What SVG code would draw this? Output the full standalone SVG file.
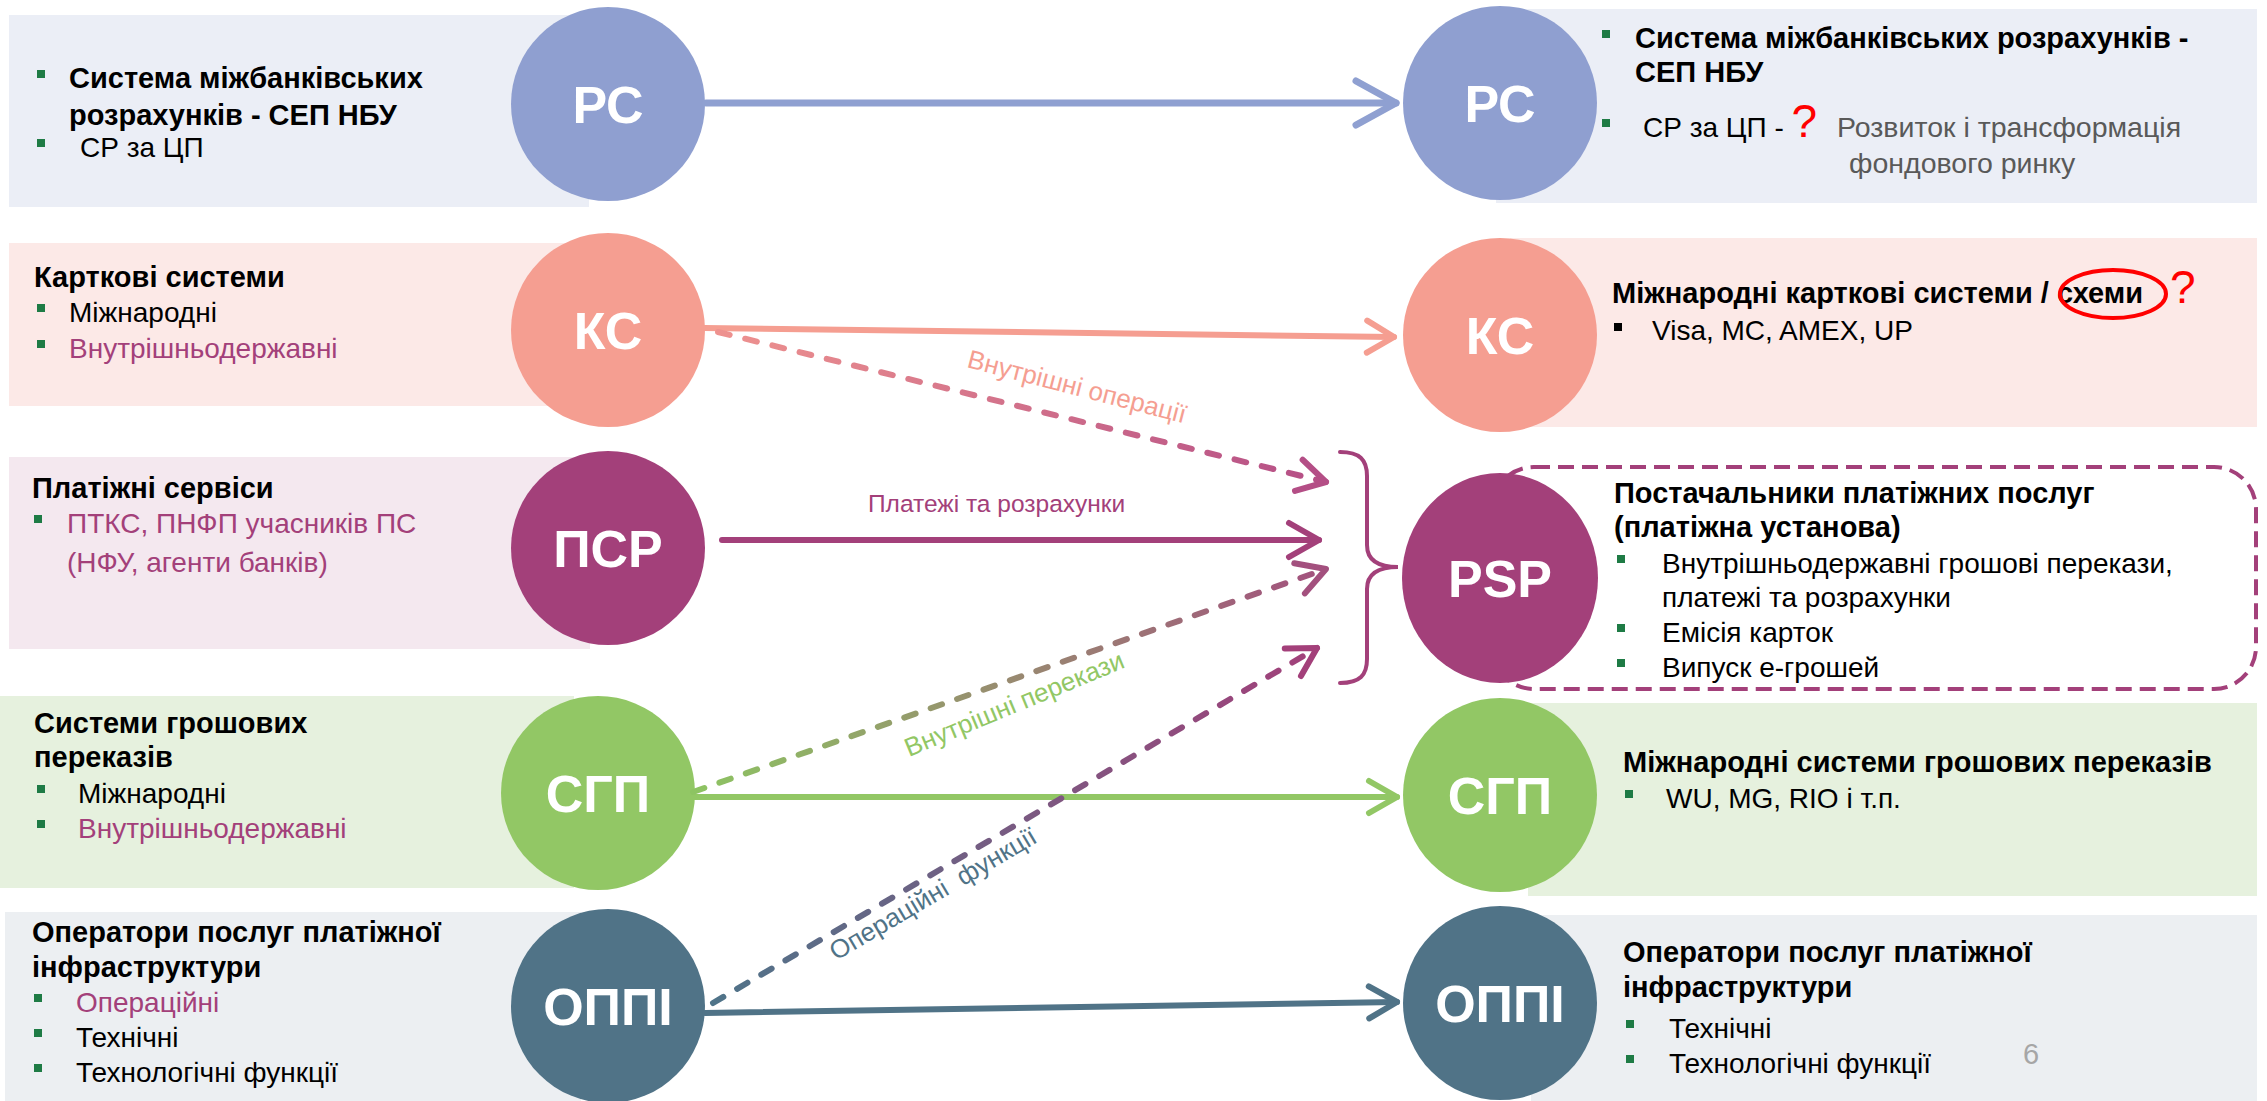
<svg xmlns="http://www.w3.org/2000/svg" width="2267" height="1101" viewBox="0 0 2267 1101">
<style>
text{font-family:"Liberation Sans",Arial,sans-serif;}
.b{font-weight:bold;font-size:29px;fill:#000;}
.r{font-size:28px;fill:#000;}
.p{font-size:28px;fill:#A3407A;}
.g{font-size:28.5px;fill:#595959;}
.lbl{font-weight:bold;font-size:52px;fill:#fff;text-anchor:middle;}
.cl{font-size:26px;}
.bul{fill:#1E7B45;}
.ln{fill:none;stroke-linecap:round;}
.dash{fill:none;stroke-width:6;stroke-linecap:round;stroke-dasharray:12 16;}
</style>
<defs>
<marker id="m-rs" markerUnits="userSpaceOnUse" markerWidth="60" markerHeight="60" refX="30" refY="30" orient="auto" overflow="visible"><path d="M-10,8 L30,30 L-10,52" fill="none" stroke="#8FA0D1" stroke-width="7" stroke-linecap="round" stroke-linejoin="round"/></marker>
<marker id="m-ks" markerUnits="userSpaceOnUse" markerWidth="60" markerHeight="60" refX="30" refY="30" orient="auto" overflow="visible"><path d="M3,14 L30,30 L3,46" fill="none" stroke="#F59E91" stroke-width="6" stroke-linecap="round" stroke-linejoin="round"/></marker>
<marker id="m-psr" markerUnits="userSpaceOnUse" markerWidth="60" markerHeight="60" refX="30" refY="30" orient="auto" overflow="visible"><path d="M0,13 L30,30 L0,47" fill="none" stroke="#A3407A" stroke-width="6" stroke-linecap="round" stroke-linejoin="round"/></marker>
<marker id="m-sgp" markerUnits="userSpaceOnUse" markerWidth="60" markerHeight="60" refX="30" refY="30" orient="auto" overflow="visible"><path d="M2,14 L30,30 L2,46" fill="none" stroke="#92C765" stroke-width="6" stroke-linecap="round" stroke-linejoin="round"/></marker>
<marker id="m-oppi" markerUnits="userSpaceOnUse" markerWidth="60" markerHeight="60" refX="30" refY="30" orient="auto" overflow="visible"><path d="M2,14 L30,30 L2,46" fill="none" stroke="#507387" stroke-width="6" stroke-linecap="round" stroke-linejoin="round"/></marker>
<marker id="m-d1" markerUnits="userSpaceOnUse" markerWidth="60" markerHeight="60" refX="30" refY="30" orient="auto" overflow="visible"><path d="M2,14 L30,30 L2,46" fill="none" stroke="#B44E86" stroke-width="6" stroke-linecap="round" stroke-linejoin="round"/></marker>
<marker id="m-d2" markerUnits="userSpaceOnUse" markerWidth="60" markerHeight="60" refX="30" refY="30" orient="auto" overflow="visible"><path d="M2,14 L30,30 L2,46" fill="none" stroke="#A3507E" stroke-width="6" stroke-linecap="round" stroke-linejoin="round"/></marker>
<marker id="m-d3" markerUnits="userSpaceOnUse" markerWidth="60" markerHeight="60" refX="30" refY="30" orient="auto" overflow="visible"><path d="M2,14 L30,30 L2,46" fill="none" stroke="#A3407A" stroke-width="6" stroke-linecap="round" stroke-linejoin="round"/></marker>
<linearGradient id="gr1" gradientUnits="userSpaceOnUse" x1="718" y1="332" x2="1328" y2="483"><stop offset="0" stop-color="#EE928F"/><stop offset="1" stop-color="#B44E86"/></linearGradient>
<linearGradient id="gr2" gradientUnits="userSpaceOnUse" x1="693" y1="792" x2="1328" y2="568"><stop offset="0" stop-color="#8DC462"/><stop offset="1" stop-color="#A3507E"/></linearGradient>
<linearGradient id="gr3" gradientUnits="userSpaceOnUse" x1="713" y1="1003" x2="1319" y2="647"><stop offset="0" stop-color="#4F7489"/><stop offset="1" stop-color="#A3407A"/></linearGradient>
</defs>
<rect width="2267" height="1101" fill="#fff"/>

<g id="rs-left">
<rect x="9" y="15" width="580" height="192" fill="#EBEEF6"/>
<rect class="bul" x="37" y="70" width="8" height="8"/>
<text class="b" x="69" y="88">Система міжбанківських</text>
<text class="b" x="69" y="125">розрахунків - СЕП НБУ</text>
<rect class="bul" x="37" y="139" width="8" height="8"/>
<text class="r" x="80" y="157">СР за ЦП</text>
<circle cx="608" cy="104" r="97" fill="#8F9FD0"/>
<text class="lbl" x="608" y="123">РС</text>
</g>

<g id="rs-right">
<rect x="1496" y="9" width="761" height="194" fill="#EBEEF6"/>
<rect class="bul" x="1602" y="30" width="8" height="8"/>
<text class="b" x="1635" y="48">Система міжбанківських розрахунків -</text>
<text class="b" x="1635" y="82">СЕП НБУ</text>
<rect class="bul" x="1602" y="119" width="8" height="8"/>
<text class="r" x="1643" y="137">СР за ЦП - <tspan fill="#FF0000" font-size="46">?</tspan></text>
<text class="g" x="1837" y="137">Розвиток і трансформація</text>
<text class="g" x="1849" y="173">фондового ринку</text>
<circle cx="1500" cy="103" r="97" fill="#8F9FD0"/>
<text class="lbl" x="1500" y="122">РС</text>
</g>

<g id="ks-left">
<rect x="9" y="243" width="581" height="163" fill="#FCE9E7"/>
<text class="b" x="34" y="287">Карткові системи</text>
<rect class="bul" x="37" y="304" width="8" height="8"/>
<text class="r" x="69" y="322">Міжнародні</text>
<rect class="bul" x="37" y="340" width="8" height="8"/>
<text class="p" x="69" y="358">Внутрішньодержавні</text>
<circle cx="608" cy="330" r="97" fill="#F59E91"/>
<text class="lbl" x="608" y="349">КС</text>
</g>

<g id="ks-right">
<rect x="1510" y="238" width="747" height="189" fill="#FCE9E7"/>
<text class="b" x="1612" y="303">Міжнародні карткові системи / схеми</text>
<ellipse cx="2113" cy="294" rx="53" ry="24" fill="none" stroke="#FF0000" stroke-width="4"/>
<text x="2170" y="303" font-size="46" fill="#FF0000">?</text>
<rect x="1614" y="323" width="8" height="8" fill="#000"/>
<text class="r" x="1652" y="340">Visa, MC, AMEX, UP</text>
<circle cx="1500" cy="335" r="97" fill="#F59E91"/>
<text class="lbl" x="1500" y="354">КС</text>
</g>

<g id="psr-left">
<rect x="9" y="457" width="581" height="192" fill="#F4E8EF"/>
<text class="b" x="32" y="498">Платіжні сервіси</text>
<rect class="bul" x="34" y="515" width="8" height="8"/>
<text class="p" x="67" y="533">ПТКС, ПНФП учасників ПС</text>
<text class="p" x="67" y="572">(НФУ, агенти банків)</text>
<circle cx="608" cy="548" r="97" fill="#A3407A"/>
<text class="lbl" x="608" y="567">ПСР</text>
</g>

<g id="psp">
<rect x="1492" y="467" width="764" height="222" rx="42" fill="none" stroke="#A3407A" stroke-width="4" stroke-dasharray="16 8"/>
<path d="M1340,452 C1360,452 1367,460 1367,476 L1367,545 C1367,560 1378,567 1398,567 C1378,567 1367,574 1367,589 L1367,659 C1367,675 1360,683 1340,683" fill="none" stroke="#A3407A" stroke-width="4" stroke-linecap="round"/>
<ellipse cx="1500" cy="578" rx="98" ry="105" fill="#A3407A"/>
<text class="lbl" x="1500" y="597">PSP</text>
<text class="b" x="1614" y="503">Постачальники платіжних послуг</text>
<text class="b" x="1614" y="537">(платіжна установа)</text>
<rect class="bul" x="1617" y="555" width="8" height="8"/>
<text class="r" x="1662" y="573">Внутрішньодержавні грошові перекази,</text>
<text class="r" x="1662" y="607">платежі та розрахунки</text>
<rect class="bul" x="1617" y="624" width="8" height="8"/>
<text class="r" x="1662" y="642">Емісія карток</text>
<rect class="bul" x="1617" y="659" width="8" height="8"/>
<text class="r" x="1662" y="677">Випуск е-грошей</text>
</g>

<g id="sgp-left">
<rect x="0" y="696" width="574" height="192" fill="#E6F1DE"/>
<text class="b" x="34" y="733">Системи грошових</text>
<text class="b" x="34" y="767">переказів</text>
<rect class="bul" x="37" y="785" width="8" height="8"/>
<text class="r" x="78" y="803">Міжнародні</text>
<rect class="bul" x="37" y="820" width="8" height="8"/>
<text class="p" x="78" y="838">Внутрішньодержавні</text>
<circle cx="598" cy="793" r="97" fill="#92C765"/>
<text class="lbl" x="598" y="812">СГП</text>
</g>

<g id="sgp-right">
<rect x="1528" y="703" width="729" height="193" fill="#E6F1DE"/>
<text class="b" x="1623" y="772">Міжнародні системи грошових переказів</text>
<rect class="bul" x="1625" y="790" width="8" height="8"/>
<text class="r" x="1666" y="808">WU, MG, RIO і т.п.</text>
<circle cx="1500" cy="795" r="97" fill="#92C765"/>
<text class="lbl" x="1500" y="814">СГП</text>
</g>

<g id="oppi-left">
<rect x="5" y="912" width="576" height="189" fill="#ECEFF2"/>
<text class="b" x="32" y="942">Оператори послуг платіжної</text>
<text class="b" x="32" y="977">інфраструктури</text>
<rect class="bul" x="34" y="994" width="8" height="8"/>
<text class="p" x="76" y="1012">Операційні</text>
<rect class="bul" x="34" y="1029" width="8" height="8"/>
<text class="r" x="76" y="1047">Технічні</text>
<rect class="bul" x="34" y="1064" width="8" height="8"/>
<text class="r" x="76" y="1082">Технологічні функції</text>
<circle cx="608" cy="1006" r="97" fill="#507387"/>
<text class="lbl" x="608" y="1025">ОППІ</text>
</g>

<g id="oppi-right">
<rect x="1531" y="915" width="726" height="186" fill="#ECEFF2"/>
<text class="b" x="1623" y="962">Оператори послуг платіжної</text>
<text class="b" x="1623" y="997">інфраструктури</text>
<rect class="bul" x="1626" y="1020" width="8" height="8"/>
<text class="r" x="1669" y="1038">Технічні</text>
<rect class="bul" x="1626" y="1055" width="8" height="8"/>
<text class="r" x="1669" y="1073">Технологічні функції</text>
<text x="2023" y="1064" font-size="29" fill="#A6A6A6">6</text>
<circle cx="1500" cy="1003" r="97" fill="#507387"/>
<text class="lbl" x="1500" y="1022">ОППІ</text>
</g>

<g id="connectors">
<line class="ln" x1="706" y1="103" x2="1396" y2="103" stroke="#8FA0D1" stroke-width="7" marker-end="url(#m-rs)"/>
<line class="ln" x1="704" y1="328" x2="1394" y2="337" stroke="#F59E91" stroke-width="6" marker-end="url(#m-ks)"/>
<line class="ln" x1="722" y1="540" x2="1319" y2="540" stroke="#A3407A" stroke-width="6" marker-end="url(#m-psr)"/>
<line class="ln" x1="693" y1="797" x2="1397" y2="797" stroke="#92C765" stroke-width="6" marker-end="url(#m-sgp)"/>
<line class="ln" x1="705" y1="1013" x2="1397" y2="1002" stroke="#507387" stroke-width="6" marker-end="url(#m-oppi)"/>
<line class="dash" x1="718" y1="332" x2="1326" y2="482" stroke="url(#gr1)" marker-end="url(#m-d1)"/>
<line class="dash" x1="693" y1="792" x2="1326" y2="569" stroke="url(#gr2)" marker-end="url(#m-d2)"/>
<line class="dash" x1="713" y1="1003" x2="1317" y2="648" stroke="url(#gr3)" marker-end="url(#m-d3)"/>
<text class="cl" fill="#F59E91" transform="translate(966,367) rotate(14.5)">Внутрішні операції</text>
<text class="cl" font-size="24.5" fill="#A3407A" x="868" y="512" style="font-size:24.5px">Платежі та розрахунки</text>
<text class="cl" fill="#92C765" transform="translate(909,757) rotate(-22.5)">Внутрішні перекази</text>
<text class="cl" fill="#507387" xml:space="preserve" transform="translate(836,961) rotate(-30.5)">Операційні  функції</text>
</g>
</svg>
